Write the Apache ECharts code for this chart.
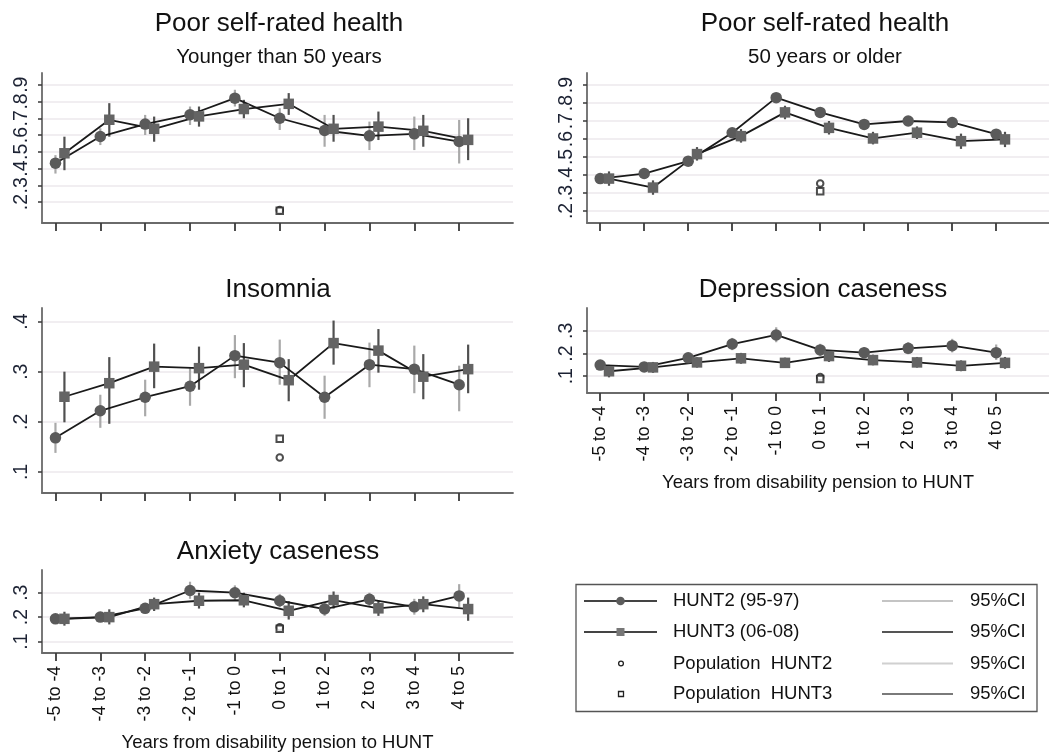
<!DOCTYPE html>
<html><head><meta charset="utf-8">
<script src="https://cdn.jsdelivr.net/npm/echarts@6/dist/echarts.min.js"></script>
<style>html,body{margin:0;padding:0;background:#fff}#chart{width:1049px;height:753px}</style>
</head><body><div id="chart"></div>
<script>
// ---------- data ----------
const categories = ['-5 to -4','-4 to -3','-3 to -2','-2 to -1','-1 to 0','0 to 1','1 to 2','2 to 3','3 to 4','4 to 5'];
const popCategory = '0 to 1';

// Poor self-rated health, younger than 50 years
const youngH2   = [0.432,0.591,0.665,0.721,0.820,0.700,0.627,0.595,0.607,0.561];
const youngH2Lo = [0.37,0.54,0.60,0.66,0.77,0.63,0.53,0.51,0.51,0.43];
const youngH2Hi = [0.48,0.64,0.72,0.77,0.87,0.76,0.72,0.68,0.71,0.69];
const youngH3   = [0.491,0.691,0.637,0.711,0.755,0.786,0.637,0.650,0.625,0.571];
const youngH3Lo = [0.39,0.59,0.56,0.65,0.70,0.72,0.56,0.57,0.53,0.45];
const youngH3Hi = [0.59,0.79,0.71,0.77,0.81,0.85,0.72,0.74,0.72,0.70];
const youngPop  = [0.152,0.148];

// Poor self-rated health, 50 years or older
const oldH2   = [0.380,0.408,0.477,0.635,0.830,0.748,0.681,0.700,0.692,0.627];
const oldH2Lo = [0.35,0.38,0.45,0.61,0.81,0.725,0.66,0.675,0.665,0.60];
const oldH2Hi = [0.41,0.435,0.505,0.66,0.85,0.77,0.70,0.725,0.72,0.655];
const oldH3   = [0.380,0.330,0.516,0.616,0.748,0.662,0.603,0.635,0.588,0.598];
const oldH3Lo = [0.34,0.29,0.48,0.58,0.71,0.625,0.57,0.60,0.545,0.555];
const oldH3Hi = [0.42,0.37,0.555,0.655,0.785,0.70,0.64,0.67,0.63,0.64];
const oldPop  = [0.353,0.310];

// Insomnia
const insH2   = [0.168,0.222,0.249,0.271,0.332,0.318,0.249,0.314,0.305,0.274];
const insH2Lo = [0.138,0.188,0.211,0.232,0.287,0.274,0.206,0.269,0.257,0.221];
const insH2Hi = [0.198,0.254,0.284,0.307,0.373,0.364,0.292,0.358,0.352,0.312];
const insH3   = [0.250,0.277,0.310,0.307,0.314,0.283,0.357,0.342,0.290,0.305];
const insH3Lo = [0.199,0.196,0.267,0.264,0.269,0.241,0.314,0.298,0.245,0.257];
const insH3Hi = [0.300,0.329,0.356,0.350,0.357,0.325,0.402,0.385,0.335,0.354];
const insPop  = [0.129,0.166];

// Depression caseness
const depH2   = [0.149,0.141,0.181,0.242,0.282,0.216,0.204,0.223,0.235,0.204];
const depH2Lo = [0.128,0.122,0.160,0.215,0.250,0.190,0.180,0.197,0.205,0.172];
const depH2Hi = [0.170,0.160,0.202,0.269,0.316,0.243,0.228,0.250,0.265,0.240];
const depH3   = [0.122,0.139,0.161,0.179,0.159,0.189,0.171,0.161,0.146,0.159];
const depH3Lo = [0.095,0.115,0.138,0.155,0.137,0.163,0.148,0.138,0.122,0.133];
const depH3Hi = [0.150,0.163,0.184,0.203,0.182,0.215,0.195,0.185,0.170,0.185];
const depPop  = [0.097,0.088];

// Anxiety caseness
const anxH2   = [0.193,0.200,0.236,0.309,0.300,0.267,0.233,0.273,0.242,0.287];
const anxH2Lo = [0.175,0.180,0.215,0.275,0.270,0.240,0.205,0.245,0.210,0.240];
const anxH2Hi = [0.212,0.220,0.258,0.345,0.330,0.295,0.262,0.300,0.275,0.335];
const anxH3   = [0.193,0.200,0.253,0.267,0.269,0.226,0.270,0.236,0.253,0.233];
const anxH3Lo = [0.165,0.170,0.225,0.235,0.240,0.190,0.235,0.205,0.220,0.185];
const anxH3Hi = [0.222,0.232,0.280,0.300,0.300,0.265,0.305,0.268,0.285,0.280];
const anxPop  = [0.158,0.152];

// y tick labels
const yTicksHealth = [0.2,0.3,0.4,0.5,0.6,0.7,0.8,0.9];
const yTicksIns    = [0.1,0.2,0.3,0.4];
const yTicksCase   = [0.1,0.2,0.3];

const seriesNames = ['HUNT2 (95-97)','HUNT3 (06-08)','Population  HUNT2','Population  HUNT3'];
const ciLabel = '95%CI';
const xTitle = 'Years from disability pension to HUNT';
const panelTitles = ['Poor self-rated health','Poor self-rated health','Insomnia','Depression caseness','Anxiety caseness'];
const panelSubtitles = ['Younger than 50 years','50 years or older'];

// ---------- layout / style ----------
const FONT = '"Liberation Sans", Arial, sans-serif';
const H3_SHIFT = 0.2;
const panels = [
  {h2:youngH2,h2Lo:youngH2Lo,h2Hi:youngH2Hi,h3:youngH3,h3Lo:youngH3Lo,h3Hi:youngH3Hi,pop:youngPop,ticks:yTicksHealth,
   grid:{left:42,top:73,width:471,height:150},ymin:0.075,ymax:0.97,xlab:false},
  {h2:oldH2,h2Lo:oldH2Lo,h2Hi:oldH2Hi,h3:oldH3,h3Lo:oldH3Lo,h3Hi:oldH3Hi,pop:oldPop,ticks:yTicksHealth,
   grid:{left:587,top:73,width:471,height:150},ymin:0.133,ymax:0.967,xlab:false},
  {h2:insH2,h2Lo:insH2Lo,h2Hi:insH2Hi,h3:insH3,h3Lo:insH3Lo,h3Hi:insH3Hi,pop:insPop,ticks:yTicksIns,
   grid:{left:42,top:308,width:471,height:185},ymin:0.058,ymax:0.427,xlab:false},
  {h2:depH2,h2Lo:depH2Lo,h2Hi:depH2Hi,h3:depH3,h3Lo:depH3Lo,h3Hi:depH3Hi,pop:depPop,ticks:yTicksCase,
   grid:{left:587,top:308,width:471,height:85},ymin:0.026,ymax:0.401,xlab:true},
  {h2:anxH2,h2Lo:anxH2Lo,h2Hi:anxH2Hi,h3:anxH3,h3Lo:anxH3Lo,h3Hi:anxH3Hi,pop:anxPop,ticks:yTicksCase,
   grid:{left:42,top:570,width:471,height:85},ymin:0.053,ymax:0.393,xlab:true}
];
const titlePos = [
  {x:279,y:24,sub:57},{x:825,y:24,sub:57},{x:278,y:290},{x:823,y:290},{x:278,y:552}
];

const tickIdx = categories.map((c,i)=>i);
const popIdx = categories.indexOf(popCategory);

const grids=[], xAxes=[], yAxes=[], series=[];
function ciSeries(g, xs, lo, hi, color){
  return {type:'custom', name:ciLabel, xAxisIndex:g, yAxisIndex:g, z:2, silent:true,
    encode:{x:0,y:[1,2]},
    data: xs.map((x,i)=>[x, lo[i], hi[i]]),
    renderItem:function(params, api){
      const a = api.coord([api.value(0), api.value(1)]);
      const b = api.coord([api.value(0), api.value(2)]);
      return {type:'line', shape:{x1:a[0],y1:a[1],x2:b[0],y2:b[1]}, style:{stroke:color, lineWidth:2.2}};
    }};
}
panels.forEach((p,g)=>{
  grids.push(Object.assign({containLabel:false}, p.grid));
  xAxes.push({gridIndex:g, type:'value', min:-0.3, max:10.2,
    axisLine:{show:true, onZero:false, lineStyle:{color:'#6a6a6a', width:1.8}},
    axisTick:{show:true, customValues:tickIdx, length:8, lineStyle:{color:'#3a3a3a', width:1.8}},
    axisLabel:{show:p.xlab, customValues:tickIdx, rotate:90, margin:13, fontSize:17.5, fontFamily:FONT, color:'#111',
      formatter:v=>categories[Math.round(v)]},
    splitLine:{show:false},
    name: p.xlab ? xTitle : '', nameLocation:'middle', nameGap:80,
    nameTextStyle:{fontSize:18.5, fontFamily:FONT, color:'#111'}
  });
  yAxes.push({gridIndex:g, type:'value', min:p.ymin, max:p.ymax,
    axisLine:{show:true, onZero:false, lineStyle:{color:'#6a6a6a', width:1.8}},
    axisTick:{show:true, customValues:p.ticks, length:4, lineStyle:{color:'#3a3a3a', width:1.5}},
    axisLabel:{customValues:p.ticks, rotate:90, margin:10, fontSize:19.5, fontFamily:FONT, color:'#1c2233',
      formatter:v=>v.toFixed(1).replace(/^0/,'')},
    splitLine:{show:true, lineStyle:{color:'#ece8ec', width:1.5}}
  });
  const x2 = tickIdx.slice();
  const x3 = tickIdx.map(i=>i+H3_SHIFT);
  series.push(ciSeries(g, x2, p.h2Lo, p.h2Hi, '#a9a9a9'));
  series.push(ciSeries(g, x3, p.h3Lo, p.h3Hi, '#505050'));
  series.push({type:'line', name:seriesNames[0], xAxisIndex:g, yAxisIndex:g, z:3,
    data:x2.map((x,i)=>[x,p.h2[i]]), symbol:'circle', symbolSize:11.5, showSymbol:true,
    lineStyle:{color:'#1a1a1a', width:1.8}, itemStyle:{color:'#5a5a5a'}, animation:false});
  series.push({type:'line', name:seriesNames[1], xAxisIndex:g, yAxisIndex:g, z:3,
    data:x3.map((x,i)=>[x,p.h3[i]]), symbol:'rect', symbolSize:10.5, showSymbol:true,
    lineStyle:{color:'#1a1a1a', width:1.8}, itemStyle:{color:'#646464'}, animation:false});
  series.push({type:'scatter', name:seriesNames[2], xAxisIndex:g, yAxisIndex:g, z:4,
    data:[[popIdx, p.pop[0]]], symbol:'emptyCircle', symbolSize:6.5,
    itemStyle:{color:'#222', borderWidth:1.5}});
  series.push({type:'scatter', name:seriesNames[3], xAxisIndex:g, yAxisIndex:g, z:4,
    data:[[popIdx, p.pop[1]]], symbol:'emptyRect', symbolSize:6.5,
    itemStyle:{color:'#222', borderWidth:1.5}});
});

const titles = [];
panelTitles.forEach((t,i)=>{
  titles.push({text:t, left:titlePos[i].x, top:titlePos[i].y-13, textAlign:'center', padding:0,
    textStyle:{fontSize:26, fontWeight:'normal', fontFamily:FONT, color:'#111'}});
});
panelSubtitles.forEach((t,i)=>{
  titles.push({text:t, left:titlePos[i].x, top:titlePos[i].sub-10.25, textAlign:'center', padding:0,
    textStyle:{fontSize:20.5, fontWeight:'normal', fontFamily:FONT, color:'#111'}});
});

// legend drawn as graphic (two columns)
const rowsY = [601, 632, 663.5, 694];
const ciColors = ['#c4c4c4','#555555','#d0d0d0','#7a7a7a'];
const legendEls = [{type:'rect', shape:{x:576, y:584.5, width:461, height:127}, style:{fill:null, stroke:'#555', lineWidth:1.3}}];
rowsY.forEach((y,i)=>{
  if (i < 2) legendEls.push({type:'line', shape:{x1:584,y1:y,x2:657,y2:y}, style:{stroke:'#444', lineWidth:2}});
  if (i === 0) legendEls.push({type:'circle', shape:{cx:620.5, cy:y, r:4.3}, style:{fill:'#5c5c5c'}});
  if (i === 1) legendEls.push({type:'rect', shape:{x:616.5, y:y-4, width:8, height:8}, style:{fill:'#777'}});
  if (i === 2) legendEls.push({type:'circle', shape:{cx:621, cy:y, r:2.4}, style:{fill:'#fff', stroke:'#222', lineWidth:1.3}});
  if (i === 3) legendEls.push({type:'rect', shape:{x:618.5, y:y-2.5, width:5, height:5}, style:{fill:'#fff', stroke:'#222', lineWidth:1.3}});
  legendEls.push({type:'text', x:673, y:y, style:{text:seriesNames[i], fontSize:18.5, fontFamily:FONT, fill:'#111', verticalAlign:'middle', align:'left'}});
  legendEls.push({type:'line', shape:{x1:882,y1:y,x2:953,y2:y}, style:{stroke:ciColors[i], lineWidth:2}});
  legendEls.push({type:'text', x:970, y:y, style:{text:ciLabel, fontSize:18.5, fontFamily:FONT, fill:'#111', verticalAlign:'middle', align:'left'}});
});

const chart = echarts.init(document.getElementById('chart'), null, {renderer:'canvas'});
chart.setOption({
  animation:false,
  backgroundColor:'#fff',
  title:titles,
  grid:grids, xAxis:xAxes, yAxis:yAxes, series:series,
  graphic:{elements:legendEls}
});
</script></body></html>
